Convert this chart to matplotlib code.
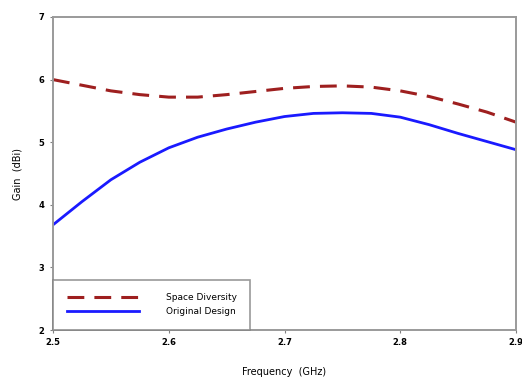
import numpy as np
from matplotlib import pyplot as plt

# Gain vs frequency
freq = [2.500, 2.525, 2.550, 2.575, 2.600, 2.625, 2.650, 2.675, 2.700,
        2.725, 2.750, 2.775, 2.800, 2.825, 2.850, 2.875, 2.900]
space_diversity = [6.00, 5.91, 5.82, 5.76, 5.72, 5.72, 5.76, 5.81, 5.86,
                   5.89, 5.90, 5.88, 5.82, 5.73, 5.61, 5.48, 5.32]
original_design = [3.68, 4.05, 4.40, 4.68, 4.91, 5.08, 5.21, 5.32, 5.41,
                   5.46, 5.47, 5.46, 5.40, 5.28, 5.14, 5.01, 4.88]

xticks = [2.5, 2.6, 2.7, 2.8, 2.9]
yticks = [2, 3, 4, 5, 6, 7]

fig = plt.figure(figsize=(5.22, 3.81), dpi=100)
ax = fig.add_axes([53/522, 1 - 330/381, (516 - 53)/522, (330 - 17)/381])

ax.plot(freq, space_diversity, color='#9e1f1f', lw=2.2, ls=(0, (5.5, 3.3)),
        label='Space Diversity')
ax.plot(freq, original_design, color='#1a1aff', lw=2.0, label='Original Design')

ax.set_xlim(2.5, 2.9)
ax.set_ylim(2, 7)
ax.set_xticks(xticks)
ax.set_yticks(yticks)
ax.set_xticklabels(['%.1f' % v for v in xticks], fontsize=6, fontweight='bold')
ax.set_yticklabels([str(v) for v in yticks], fontsize=6, fontweight='bold')
ax.tick_params(length=2, width=0.8, color='#808080', pad=4)
for s in ax.spines.values():
    s.set_color('#9a9a9a')
    s.set_linewidth(1.4)

ax.set_xlabel('Frequency  (GHz)', fontsize=7, labelpad=14)
ax.set_ylabel('Gain  (dBi)', fontsize=7, labelpad=12)

leg = ax.legend(loc='lower left', bbox_to_anchor=(0, 0), fontsize=6.5,
                frameon=True, fancybox=False, borderaxespad=0,
                handlelength=8, handletextpad=3, borderpad=1.5,
                labelspacing=0.6)
leg.get_frame().set_edgecolor('#808080')
leg.get_frame().set_linewidth(1.2)

fig.savefig('out.png', dpi=100)
